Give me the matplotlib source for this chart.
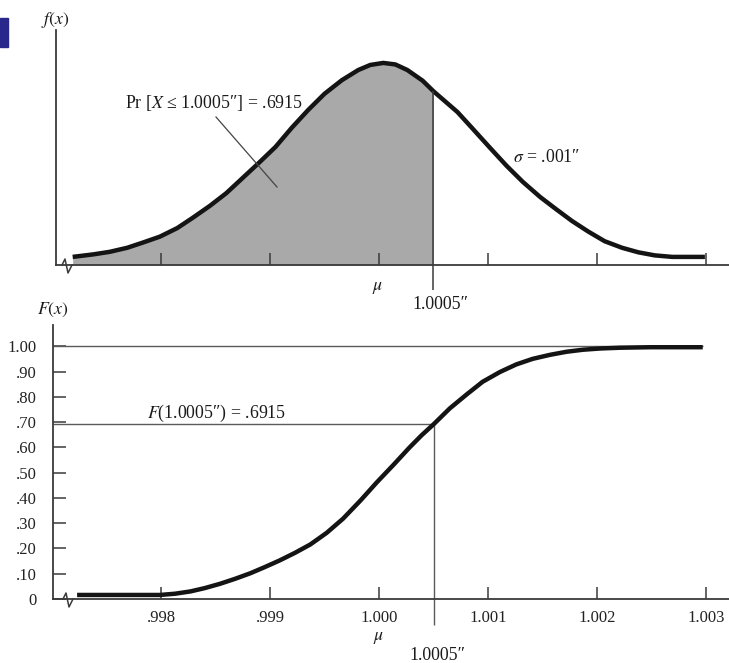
import matplotlib
matplotlib.use('Agg')
import matplotlib.pyplot as plt
from matplotlib.lines import Line2D
from matplotlib.patches import Rectangle

plt.rcParams['font.family'] = ['Liberation Serif', 'DejaVu Serif']
plt.rcParams['mathtext.fontset'] = 'stix'

# density curve (sigma = .001, so peak ~ 399)
pdf_x = [0.99719, 0.99738, 0.99753, 0.99769, 0.99783, 0.99799, 0.99815,
         0.99829, 0.99845, 0.99860, 0.99874, 0.99889, 0.99905, 0.99920,
         0.99935, 0.99950, 0.99966, 0.99981, 0.99992, 1.00004, 1.00015,
         1.00026, 1.00040, 1.00050, 1.00072, 1.00086, 1.00102, 1.00117,
         1.00132, 1.00148, 1.00162, 1.00177, 1.00192, 1.00207, 1.00223,
         1.00238, 1.00253, 1.00269, 1.00285, 1.00299]
pdf_f = [16, 21, 26, 34, 44, 56, 73,
         93, 117, 142, 170, 200, 233, 271,
         306, 338, 365, 385, 395, 399, 396,
         385, 364, 343, 302, 269, 231, 196,
         164, 134, 111, 87, 66, 47, 34,
         25, 19, 16, 16, 16]

# cumulative curve
cdf_x = [0.99723, 0.99762, 0.99799, 0.99813, 0.99827, 0.99840, 0.99854,
         0.99868, 0.99882, 0.99895, 0.99909, 0.99923, 0.99937, 0.99952,
         0.99967, 0.99983, 0.99998, 1.00013, 1.00028, 1.00039, 1.00050,
         1.00065, 1.00081, 1.00095, 1.00111, 1.00126, 1.00141, 1.00157,
         1.00172, 1.00187, 1.00203, 1.00221, 1.00249, 1.00297]
cdf_F = [0.016, 0.016, 0.016, 0.021, 0.030, 0.043, 0.060,
         0.080, 0.102, 0.126, 0.153, 0.183, 0.216, 0.262,
         0.318, 0.390, 0.462, 0.530, 0.600, 0.648, 0.6915,
         0.755, 0.812, 0.860, 0.899, 0.929, 0.951, 0.967,
         0.979, 0.987, 0.992, 0.995, 0.997, 0.997]

x_ticks = [0.998, 0.999, 1.000, 1.001, 1.002, 1.003]
x_labels = ['.998', '.999', '1.000', '1.001', '1.002', '1.003']
y_ticks = [0, 0.1, 0.2, 0.3, 0.4, 0.5, 0.6, 0.7, 0.8, 0.9, 1.0]
y_labels = ['0', '.10', '.20', '.30', '.40', '.50', '.60', '.70', '.80',
            '.90', '1.00']
x_cut = 1.0005
p_cut = 0.6915

W, H = 729, 663


def fx(p):
    return p / W


def fy(p):
    return 1 - p / H


ink = '#141414'
axis_c = '#3a3a3a'
ref_c = '#5a5a5a'
fs = 12.8
fs_tick = 12

fig = plt.figure(figsize=(W / 100, H / 100), dpi=100)
fig.patch.set_facecolor('white')

# ---- upper panel: density
ax1 = fig.add_axes([fx(56), fy(265), fx(729) - fx(56), fy(30) - fy(265)])
ax1.set_xlim(0.997037, 1.003211)
ax1.set_ylim(0, 464)
shade_x = [x for x in pdf_x if x <= x_cut]
shade_f = pdf_f[:len(shade_x)]
ax1.fill_between(shade_x, 0, shade_f, color='#a9a9a9', lw=0)
ax1.plot(pdf_x, pdf_f, color=ink, lw=3.2, solid_joinstyle='round',
         solid_capstyle='butt')
f_cut = pdf_f[pdf_x.index(x_cut)]
ax1.vlines(x_cut, -49, f_cut, color=axis_c, lw=1.1, clip_on=False)
for s in ['top', 'right']:
    ax1.spines[s].set_visible(False)
for s in ['left', 'bottom']:
    ax1.spines[s].set_color(axis_c)
    ax1.spines[s].set_linewidth(1.3)
ax1.set_yticks([])
ax1.set_xticks(x_ticks)
ax1.tick_params(axis='x', direction='in', length=9, width=1.1,
                color=axis_c, labelbottom=False)

# ---- lower panel: cumulative
ax2 = fig.add_axes([fx(53), fy(599), fx(729) - fx(53), fy(325) - fy(599)])
ax2.set_xlim(0.997009, 1.003211)
ax2.set_ylim(0, 1.085)
x0 = ax2.get_xlim()[0]
ax2.hlines(1.0, x0, cdf_x[-1], color=ref_c, lw=1)
ax2.hlines(p_cut, x0, x_cut, color=ref_c, lw=1)
ax2.vlines(x_cut, -0.103, p_cut, color=ref_c, lw=1, clip_on=False)
ax2.plot(cdf_x, cdf_F, color=ink, lw=3.2, solid_joinstyle='round',
         solid_capstyle='butt')
for s in ['top', 'right']:
    ax2.spines[s].set_visible(False)
for s in ['left', 'bottom']:
    ax2.spines[s].set_color(axis_c)
    ax2.spines[s].set_linewidth(1.3)
ax2.set_xticks(x_ticks)
ax2.set_xticklabels(x_labels)
ax2.set_yticks(y_ticks)
ax2.set_yticklabels(y_labels)
ax2.tick_params(axis='x', direction='in', length=9, width=1.1,
                color=axis_c, pad=8, labelsize=fs_tick, labelcolor='#222')
ax2.tick_params(axis='y', direction='in', length=9.5, width=1.1,
                color=axis_c, pad=12, labelsize=fs_tick, labelcolor='#222')

# axis break marks
for yb in (265, 599):
    xb = 62 if yb == 265 else 63
    fig.add_artist(Line2D([fx(xb), fx(xb + 3), fx(xb + 6), fx(xb + 10)],
                          [fy(yb), fy(yb - 6), fy(yb + 8), fy(yb)],
                          transform=fig.transFigure, color=axis_c, lw=1.1))

# leader line
fig.add_artist(Line2D([fx(216), fx(277)], [fy(117), fy(187)],
                      transform=fig.transFigure, color='#444', lw=0.9))

# blue corner block
fig.patches.append(Rectangle((0, fy(47)), fx(8), fy(18) - fy(47),
                             transform=fig.transFigure, color='#28288c'))

tc = '#1a1a1a'
fig.text(fx(55), fy(20), '$f(x)$', ha='center', va='center', fontsize=fs, color=tc)
fig.text(fx(53), fy(310), '$F(x)$', ha='center', va='center', fontsize=fs, color=tc)
fig.text(fx(125), fy(103), 'Pr [$X$ \u2264 1.0005\u2033] = .6915',
         ha='left', va='center', fontsize=fs, color=tc)
fig.text(fx(513), fy(157), '$\\sigma$ = .001\u2033', ha='left', va='center',
         fontsize=fs, color=tc)
fig.text(fx(378), fy(288), '$\\mu$', ha='center', va='center', fontsize=fs, color=tc)
fig.text(fx(440), fy(305), '1.0005\u2033', ha='center', va='center',
         fontsize=fs, color=tc)
fig.text(fx(147), fy(413), '$F$(1.0005\u2033) = .6915', ha='left',
         va='center', fontsize=fs, color=tc)
fig.text(fx(379), fy(638), '$\\mu$', ha='center', va='center', fontsize=fs, color=tc)
fig.text(fx(437), fy(655), '1.0005\u2033', ha='center', va='center',
         fontsize=fs, color=tc)

fig.savefig('out.png', dpi=100, facecolor='white')
